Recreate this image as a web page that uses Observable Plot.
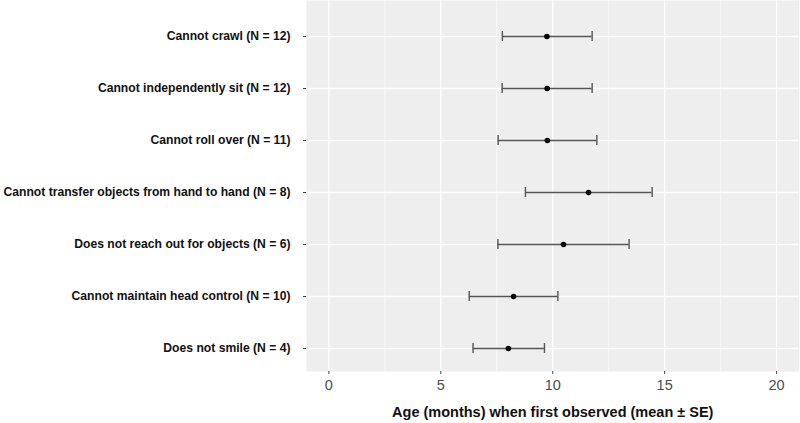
<!DOCTYPE html>
<html><head><meta charset="utf-8">
<script src="https://cdn.jsdelivr.net/npm/d3@7"></script>
<script src="https://cdn.jsdelivr.net/npm/@observablehq/plot@0.6"></script>
<style>body{margin:0;background:#fff;}</style>
</head><body><div id="chart"></div><script>
const categories = [
  "Cannot crawl (N = 12)",
  "Cannot independently sit (N = 12)",
  "Cannot roll over (N = 11)",
  "Cannot transfer objects from hand to hand (N = 8)",
  "Does not reach out for objects (N = 6)",
  "Cannot maintain head control (N = 10)",
  "Does not smile (N = 4)"
];
const means = [9.74, 9.75, 9.76, 11.6, 10.48, 8.25, 8.02];
const lower = [7.75, 7.74, 7.56, 8.78, 7.55, 6.27, 6.44];
const upper = [11.76, 11.76, 11.97, 14.44, 13.41, 10.23, 9.63];
const majorTicks = [0, 5, 10, 15, 20];
const minorTicks = [2.5, 7.5, 12.5, 17.5];
const xLabel = "Age (months) when first observed (mean \u00b1 SE)";

const data = categories.map((c, i) => ({cat: c, mean: means[i], lo: lower[i], hi: upper[i]}));

const chart = Plot.plot({
  width: 800, height: 423,
  marginLeft: 306, marginRight: 1.5, marginTop: 0, marginBottom: 52,
  style: {fontFamily: "'Liberation Sans', Arial, sans-serif", background: "#fff"},
  x: {domain: [-1, 21]},
  y: {type: "band", domain: categories, range: [10, 374], padding: 0},
  marks: [
    Plot.frame({fill: "#eeeeee", stroke: null}),
    Plot.gridX(minorTicks, {stroke: "#fff", strokeOpacity: 1, strokeWidth: 0.6}),
    Plot.gridX(majorTicks, {stroke: "#fff", strokeOpacity: 1, strokeWidth: 1.3}),
    Plot.gridY(categories, {stroke: "#fff", strokeOpacity: 1, strokeWidth: 1.3}),
    Plot.axisX(majorTicks, {tickSize: 3, stroke: "#444", tickPadding: 5, fontSize: 14.5, fill: "#4d4d4d", label: null}),
    Plot.axisY({tickSize: 3, stroke: "#444", tickPadding: 13, fontSize: 12.15, fontWeight: "bold", fill: "#111", label: null}),
    Plot.text([xLabel], {frameAnchor: "bottom", dy: 45, fontSize: 14.5, fontWeight: "bold", fill: "#111"}),
    Plot.ruleY(data, {y: "cat", x1: "lo", x2: "hi", stroke: "#555", strokeWidth: 1.4}),
    Plot.tickX(data, {x: "lo", y: "cat", insetTop: 21, insetBottom: 21, stroke: "#555", strokeWidth: 1.4}),
    Plot.tickX(data, {x: "hi", y: "cat", insetTop: 21, insetBottom: 21, stroke: "#555", strokeWidth: 1.4}),
    Plot.dot(data, {x: "mean", y: "cat", r: 2.8, fill: "#000", stroke: null})
  ]
});
document.getElementById("chart").appendChild(chart);
</script></body></html>
